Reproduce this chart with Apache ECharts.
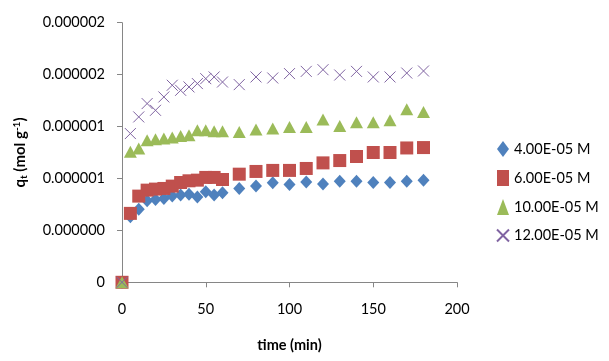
<!DOCTYPE html>
<html>
<head>
<meta charset="utf-8">
<script src="https://cdn.jsdelivr.net/npm/echarts@6/dist/echarts.min.js"></script>
<style>
  html, body { margin: 0; padding: 0; background: #fff; }
  .chart { width: 609px; height: 361px; }
</style>
</head>
<body>
<div class="chart"></div>
<script>
// time (min)
var times = [0, 5, 10, 15, 20, 25, 30, 35, 40, 45, 50, 55, 60, 70, 80, 90, 100, 110, 120, 130, 140, 150, 160, 170, 180];
// q_t in units of 1e-7 mol/g
var q4 = [0, 5.05, 5.62, 6.28, 6.38, 6.46, 6.64, 6.72, 6.79, 6.58, 6.97, 6.72, 6.89, 7.23, 7.41, 7.66, 7.54, 7.72, 7.58, 7.79, 7.79, 7.69, 7.69, 7.79, 7.87];
var q6 = [0, 5.31, 6.64, 7.10, 7.18, 7.23, 7.41, 7.69, 7.82, 7.87, 8.08, 8.08, 7.92, 8.33, 8.54, 8.62, 8.62, 8.77, 9.20, 9.38, 9.69, 10.0, 10.0, 10.35, 10.38];
var q10 = [0, 10.05, 10.30, 10.95, 11.02, 11.08, 11.15, 11.28, 11.33, 11.72, 11.72, 11.64, 11.64, 11.58, 11.77, 11.85, 11.97, 11.97, 12.54, 12.05, 12.33, 12.33, 12.48, 13.33, 13.12];
var q12 = [0, 11.46, 12.74, 13.77, 13.25, 14.28, 15.18, 14.79, 15.05, 15.31, 15.69, 15.82, 15.43, 15.23, 15.82, 15.74, 16.08, 16.25, 16.38, 15.97, 16.25, 15.82, 15.82, 16.12, 16.28];
var seriesNames = ['4.00E-05 M', '6.00E-05 M', '10.00E-05 M', '12.00E-05 M'];
// y tick labels as printed (ticks at 0, 4, 8, 12, 16, 20 x 1e-7)
var yTickLabels = ['0', '0.000000', '0.000001', '0.000001', '0.000002', '0.000002'];

(function(){
	var myChart = echarts.init(document.querySelector('.chart'));
	var font = 'Lato, "Open Sans", sans-serif';
	var crossPath = 'path://M0,0L10,10M10,0L0,10';

	function pairs(arr) {
		return times.map(function (t, i) { return [t, arr[i]]; });
	}

	var option = {
		animation: false,
		backgroundColor: '#fff',
		grid: {
			left: 122,
			right: 152,
			top: 22.7,
			bottom: 78.7
		},
		legend: {
			orient: 'vertical',
			left: 491,
			top: 136,
			itemGap: 13,
			itemWidth: 12,
			itemHeight: 16,
			textStyle: { fontFamily: font, fontSize: 14.5, color: '#000' },
			data: [
				{ name: seriesNames[0], icon: 'diamond' },
				{ name: seriesNames[1], icon: 'rect' },
				{ name: seriesNames[2], icon: 'triangle' },
				{ name: seriesNames[3] }
			]
		},
		xAxis: {
			type: 'value',
			min: 0,
			max: 200,
			interval: 50,
			name: 'time (min)',
			nameLocation: 'middle',
			nameGap: 56,
			nameTextStyle: { fontFamily: font, fontSize: 14.5, fontWeight: 'bold', color: '#000' },
			axisLine: { lineStyle: { color: '#868686' } },
			axisTick: { show: true, length: 5, lineStyle: { color: '#868686' } },
			axisLabel: { fontFamily: font, fontSize: 14.5, color: '#000', margin: 20 },
			splitLine: { show: false }
		},
		yAxis: {
			type: 'value',
			min: 0,
			max: 20,
			interval: 4,
			name: '{b|q}{s|t}{b| (mol g}{u|-1}{b|)}',
			nameLocation: 'middle',
			nameRotate: 90,
			nameGap: 93,
			nameTextStyle: {
				rich: {
					b: { fontFamily: font, fontSize: 15, fontWeight: 'bold', color: '#000' },
					s: { fontFamily: font, fontSize: 10, fontWeight: 'bold', color: '#000', verticalAlign: 'bottom', padding: [7, 0, 0, 0] },
					u: { fontFamily: font, fontSize: 10, fontWeight: 'bold', color: '#000', verticalAlign: 'top', padding: [0, 0, 7, 0] }
				}
			},
			axisLine: { show: true, lineStyle: { color: '#868686' } },
			axisTick: { show: true, length: 5, lineStyle: { color: '#868686' } },
			axisLabel: {
				fontFamily: font,
				fontSize: 14.5,
				color: '#000',
				margin: 17,
				formatter: function (value) {
					return yTickLabels[Math.round(value / 4)];
				}
			},
			splitLine: { show: false }
		},
		series: [
			{
				name: seriesNames[0],
				type: 'scatter',
				symbol: 'diamond',
				symbolSize: [12, 13],
				itemStyle: { color: '#4F81BD', opacity: 1 },
				data: pairs(q4)
			},
			{
				name: seriesNames[1],
				type: 'scatter',
				symbol: 'rect',
				symbolSize: 13,
				itemStyle: { color: '#C0504D', opacity: 1 },
				data: pairs(q6)
			},
			{
				name: seriesNames[2],
				type: 'scatter',
				symbol: 'triangle',
				symbolSize: [13, 12],
				itemStyle: { color: '#9BBB59', opacity: 1 },
				data: pairs(q10)
			},
			{
				name: seriesNames[3],
				type: 'scatter',
				symbol: crossPath,
				symbolSize: 11,
				itemStyle: { color: 'rgba(0,0,0,0)', borderColor: '#8064A2', borderWidth: 1, opacity: 1 },
				data: pairs(q12)
			}
		]
	};
	myChart.setOption(option);
	window.addEventListener("resize", function() {
		myChart.resize();
	});
})();
</script>
</body>
</html>
